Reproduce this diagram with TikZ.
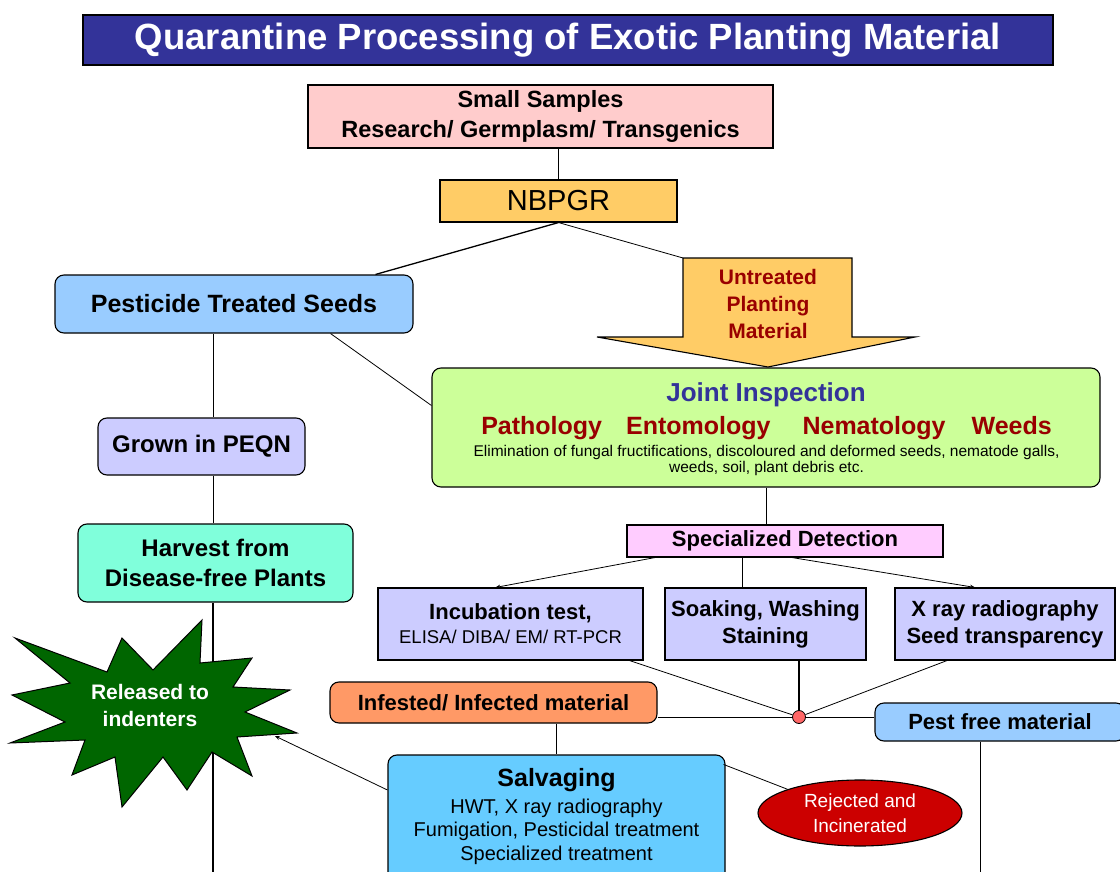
\documentclass[tikz,border=0pt]{standalone}
\usepackage{fontspec}
\setmainfont{Liberation Sans}
\usetikzlibrary{shapes.geometric,arrows.meta}

\definecolor{titleblue}{HTML}{333399}
\definecolor{samplepink}{HTML}{FFCCCC}
\definecolor{gold}{HTML}{FFCC66}
\definecolor{skyblue}{HTML}{99CCFF}
\definecolor{lime}{HTML}{CCFF99}
\definecolor{lilac}{HTML}{CCCCFF}
\definecolor{aqua}{HTML}{80FFDB}
\definecolor{pinklight}{HTML}{FFCCFF}
\definecolor{salmon}{HTML}{FF9966}
\definecolor{salvblue}{HTML}{66CCFF}
\definecolor{firered}{HTML}{CC0000}
\definecolor{stargreen}{HTML}{006600}
\definecolor{dotpink}{HTML}{FF6666}
\definecolor{darkred}{HTML}{990000}

\newcommand\fsize[2]{\fontsize{#1}{#2}\selectfont}

\begin{document}
\begin{tikzpicture}[x=1pt,y=-1pt,
    box/.style={draw,line width=1.1pt,inner sep=0pt,align=center,
        font=\bfseries\fsize{22}{27}},
    rbox/.style={box,rounded corners=9pt},
    link/.style={line width=0.8pt},
    tip/.style={-{Stealth[length=5pt,width=4pt]}}]
    \useasboundingbox (0,0) rectangle (1120,872);
    \clip (0,0) rectangle (1120,872);

    % boxes
    \node[box,fill=titleblue,text=white,minimum width=970pt,minimum height=50pt,
        font=\bfseries\fsize{36.5}{40}] (title) at (568,40)
        {Quarantine Processing of Exotic Planting Material};
    \node[box,fill=samplepink,minimum width=465pt,minimum height=63pt,
        font=\bfseries\fsize{23.5}{30}] (samples) at (540.5,116.5)
        {Small Samples\\Research/ Germplasm/ Transgenics};
    \node[box,fill=gold,minimum width=237pt,minimum height=42pt,
        font=\fsize{29}{30}] (nbpgr) at (558.5,201) {NBPGR};
    \node[rbox,fill=skyblue,minimum width=358pt,minimum height=58pt,
        font=\bfseries\fsize{25}{30}] (pts) at (234,304) {Pesticide Treated Seeds};
    \node[rbox,fill=lilac,minimum width=207pt,minimum height=57pt,
        font=\bfseries\fsize{24}{30}] (peqn) at (201.5,446.5) {Grown in PEQN};
    \node[rbox,fill=aqua,minimum width=275pt,minimum height=78pt,
        font=\bfseries\fsize{24}{30}] (harvest) at (215.5,563)
        {Harvest from\\Disease-free Plants};
    \node[rbox,fill=lime,minimum width=668pt,minimum height=119pt] (joint) at (766,427.5) {};
    \node[anchor=base,text=titleblue,font=\bfseries\fsize{26}{30}] (joint-h) at (766,401)
        {Joint Inspection};
    \node[anchor=base,text=darkred,font=\bfseries\fsize{25}{30}] (joint-s) at (766.5,434)
        {Pathology\hspace{24pt}Entomology\hspace{32pt}Nematology\hspace{26pt}Weeds};
    \node[anchor=base,align=center,font=\fsize{15.5}{16}] (joint-n) at (766.5,472)
        {Elimination of fungal fructifications, discoloured and deformed seeds, nematode galls,\\
         weeds, soil, plant debris etc.};
    \node[box,fill=pinklight,minimum width=316pt,minimum height=32pt] (spec) at (785,541)
        {Specialized Detection};
    \node[box,fill=lilac,minimum width=265pt,minimum height=72pt] (incub) at (510.5,624)
        {Incubation test,\\[-3pt]{\mdseries\fsize{18.5}{20}ELISA/ DIBA/ EM/ RT-PCR}};
    \node[box,fill=lilac,minimum width=201pt,minimum height=72pt] (soak) at (765.5,624)
        {Soaking, Washing\\Staining};
    \node[box,fill=lilac,minimum width=220pt,minimum height=72pt] (xray) at (1005,624)
        {X ray radiography\\Seed transparency};
    \node[rbox,fill=salmon,minimum width=327pt,minimum height=41pt] (infested) at (493.5,702.5)
        {Infested/ Infected material};
    \node[rbox,fill=skyblue,minimum width=250pt,minimum height=38pt] (pestfree) at (1000,722)
        {Pest free material};
    \node[rbox,fill=salvblue,minimum width=337pt,minimum height=130pt] (salv) at (556.5,820) {};
    \node[anchor=base,font=\bfseries\fsize{25}{30}] (salv-h) at (556.5,786) {Salvaging};
    \node[anchor=base,align=center,font=\fsize{20}{23.5}] (salv-n) at (556.5,860)
        {HWT, X ray radiography\\Fumigation, Pesticidal treatment\\Specialized treatment};
    \node[ellipse,draw,line width=1.1pt,fill=firered,text=white,inner sep=0pt,
        minimum width=204pt,minimum height=66pt,align=center,font=\fsize{19}{25}]
        (reject) at (860,813) {Rejected and\\Incinerated};

    % connectors
    \coordinate (trunk) at (213,0);
    \coordinate (bottom) at (0,872);
    \coordinate (untr-nw) at (683,258);
    \coordinate (star-in) at (275,736);
    \draw[link] (nbpgr.north |- samples.south) -- (nbpgr.north);
    \draw[line width=1.3pt] (nbpgr.south) -- ([xshift=-38pt]pts.north east);
    \draw[link] (nbpgr.south) -- (untr-nw);
    \draw[link] ([xshift=-83pt]pts.south east) -- ([yshift=22pt]joint.west);
    \draw[link] (trunk |- pts.south) -- (trunk |- peqn.north);
    \draw[link] (trunk |- peqn.south) -- (trunk |- harvest.north);
    \draw[line width=1.4pt] (trunk |- harvest.south) -- (trunk |- bottom);
    \draw[link] (joint.south) -- (joint.south |- spec.north);
    \draw[link,tip] ([xshift=-130pt]spec.south) -- ([xshift=-15pt]incub.north);
    \draw[link] ([xshift=-43pt]spec.south) -- ([xshift=-43pt]spec.south |- soak.north);
    \draw[link,tip] ([xshift=7pt]spec.south) -- ([xshift=-30pt]xray.north);
    \node[circle,draw,line width=0.8pt,fill=dotpink,minimum size=13pt,inner sep=0pt]
        (dot) at (799,717) {};
    \draw[link] ([xshift=119pt]incub.south) -- (dot);
    \draw[line width=2.2pt] (dot |- soak.south) -- (dot);
    \draw[link] ([xshift=-58pt]xray.south) -- (dot);
    \draw[link] (dot -| infested.east) -- (dot);
    \draw[link] (dot) -- (dot -| pestfree.west);
    \draw[link] (salv.north |- infested.south) -- (salv.north);
    \draw[link] ([xshift=-2pt,yshift=-10pt]salv.north east) -- (reject.north west);
    \draw[link] ([xshift=-20pt]pestfree.south) -- ([xshift=-20pt]pestfree.south |- bottom);

    % untreated planting material arrow
    \filldraw[fill=gold,line width=1.1pt] (untr-nw) -- (852,258) -- (852,337) -- (915,337)
        -- (768,367) -- (597,337) -- (683,337) -- cycle;
    \node[text=darkred,align=center,font=\bfseries\fsize{21}{27}] (untr) at (768,304)
        {Untreated\\Planting\\Material};

    % released star
    \filldraw[fill=stargreen,line width=1pt] plot coordinates {
        (15,638) (107,672) (122,638) (153,670) (202,620) (200,663) (252,658) (233,687)
        (290,690) (245,712) (297,733) (237,737) (252,776) (212,752) (187,790) (163,757)
        (122,807) (115,757) (72,775) (85,740) (10,743) (65,722) (12,695) (70,683)} -- cycle;
    \node[text=white,align=center,font=\bfseries\fsize{21}{27}] (star) at (150,705)
        {Released to\\indenters};
    \draw[link,tip] ([yshift=30pt]salv.west) -- (star-in);
\end{tikzpicture}
\end{document}
